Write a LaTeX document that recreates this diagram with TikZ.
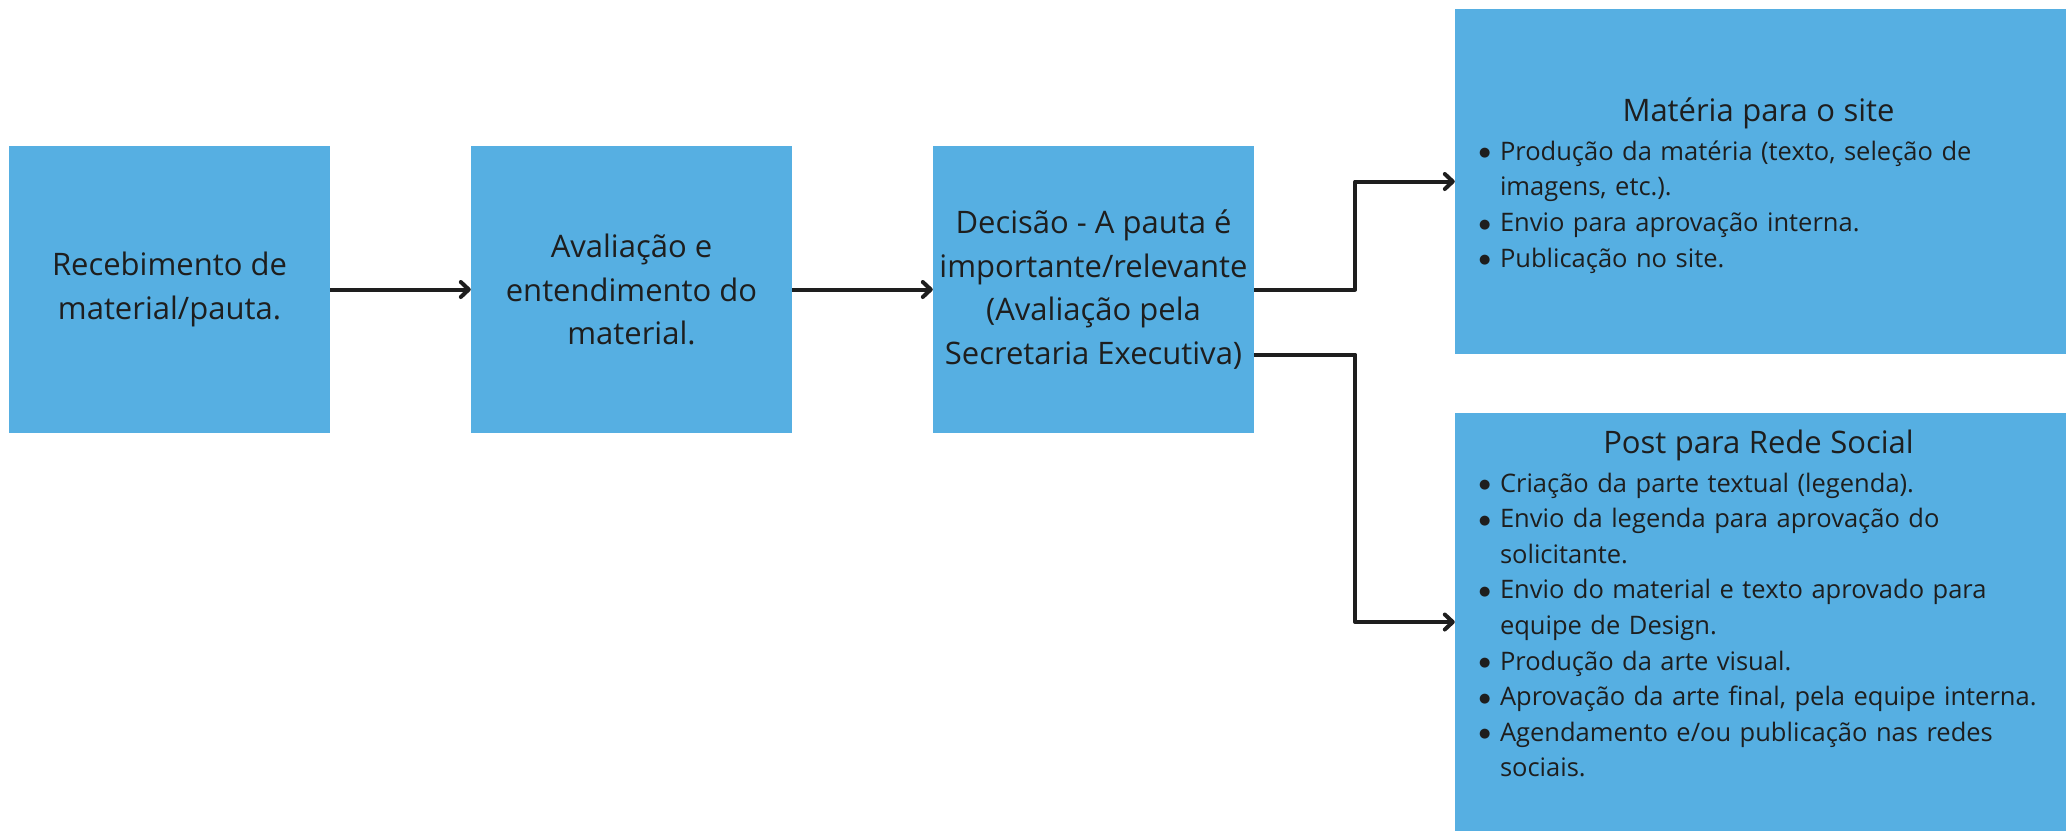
\documentclass[tikz,border=0pt]{standalone}
\usepackage{fontspec}
\setmainfont{Open Sans}
\newfontfamily\simbolo{DejaVu Sans}
\usetikzlibrary{arrows.meta}

\definecolor{azul}{HTML}{56AFE2}
\definecolor{tinta}{HTML}{1E1E1E}

\newcommand{\titulo}{\fontsize{31}{39}\selectfont}
\newcommand{\bitem}[1]{\par\noindent\hangindent=21pt\hangafter=1%
  \makebox[21pt][l]{\raisebox{3.5pt}{\simbolo\fontsize{13}{0}\selectfont ●}}#1\par}

\tikzset{
  caixa/.style={rectangle, fill=azul, draw=none, inner sep=0pt, text=tinta,
    align=center, font=\fontsize{31}{43.5}\selectfont},
  etapa/.style={caixa, minimum width=321pt, minimum height=287pt},
  destino/.style={caixa, minimum width=611pt},
  lista/.style={anchor=north west, inner sep=0pt, text width=575pt, align=left, text=tinta,
    font=\fontsize{25.5}{35.6}\selectfont},
  seta/.style={draw=tinta, line width=4pt, line join=round,
    -{Straight Barb[length=8pt,width=15pt,round]}}
}

\begin{document}
\begin{tikzpicture}
  \useasboundingbox (0,0) rectangle (2069pt,-831pt);

  \node[etapa] (rec) at (169.5pt, -289.5pt) {Recebimento de\\material/pauta.};
  \node[etapa] (aval) at (631.5pt, -289.5pt) {Avaliação e\\entendimento do\\material.};
  \node[etapa] (dec) at (1093.5pt, -289.5pt) {Decisão - A pauta é\\importante/relevante\\(Avaliação pela\\Secretaria Executiva)};
  \node[destino, minimum height=345pt] (site) at (1760.5pt, -181.5pt) {};
  \node[destino, minimum height=418pt] (post) at (1760.5pt, -622pt) {};

  % textos das caixas da direita
  \node[lista] (sitetxt) at ([xshift=24pt, yshift=-89pt]site.north west) {%
    {\centering\hspace*{-16pt}\titulo Matéria para o site\par}\vspace{3pt}
    \bitem{Produção da matéria (texto, seleção de\newline imagens, etc.).}
    \bitem{Envio para aprovação interna.}
    \bitem{Publicação no site.}};
  \node[lista] (posttxt) at ([xshift=24pt, yshift=-17pt]post.north west) {%
    {\centering\hspace*{-16pt}\titulo Post para Rede Social\par}\vspace{3pt}
    \bitem{Criação da parte textual (legenda).}
    \bitem{Envio da legenda para aprovação do\newline solicitante.}
    \bitem{Envio do material e texto aprovado para\newline equipe de Design.}
    \bitem{Produção da arte visual.}
    \bitem{Aprovação da arte final, pela equipe interna.}
    \bitem{Agendamento e/ou publicação nas redes\newline sociais.}};

  % setas
  \draw[seta] (rec) -- (aval);
  \draw[seta] (aval) -- (dec);
  \draw[seta] (dec.east) -- ++(101pt,0) |- (site.west);
  \draw[seta] ([yshift=-65pt]dec.east) -- ++(101pt,0) |- (post.west);
\end{tikzpicture}
\end{document}
